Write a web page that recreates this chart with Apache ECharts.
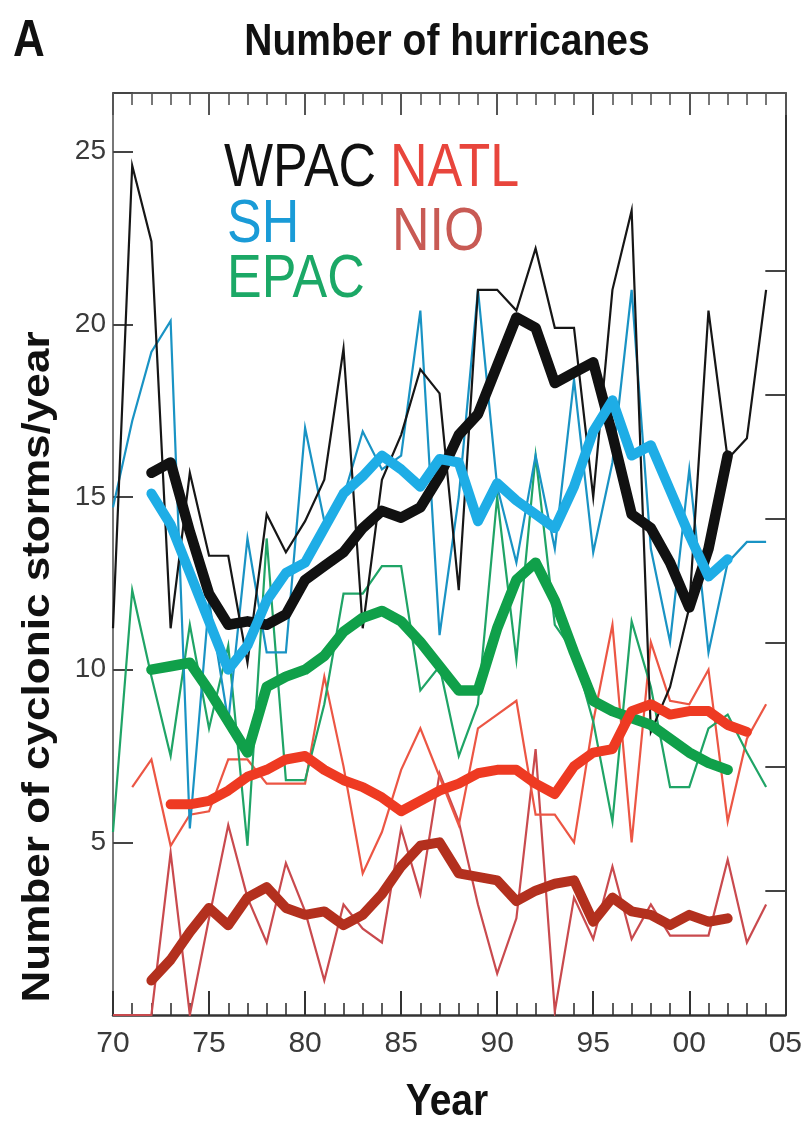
<!DOCTYPE html>
<html>
<head>
<meta charset="utf-8">
<script src="https://cdn.jsdelivr.net/npm/echarts@6/dist/echarts.min.js"></script>
<style>
html,body{margin:0;padding:0;background:#fff;}
#chart{width:805px;height:1126px;}
</style>
</head>
<body>
<div id="chart"></div>
<script>
// ---- data ----
const years = [1970,1971,1972,1973,1974,1975,1976,1977,1978,1979,1980,1981,1982,1983,1984,1985,1986,1987,1988,1989,1990,1991,1992,1993,1994,1995,1996,1997,1998,1999,2000,2001,2002,2003,2004];
const smoothYears = [1972,1973,1974,1975,1976,1977,1978,1979,1980,1981,1982,1983,1984,1985,1986,1987,1988,1989,1990,1991,1992,1993,1994,1995,1996,1997,1998,1999,2000,2001,2002];
const natlSmoothYears = [1973,1974,1975,1976,1977,1978,1979,1980,1981,1982,1983,1984,1985,1986,1987,1988,1989,1990,1991,1992,1993,1994,1995,1996,1997,1998,1999,2000,2001,2002,2003];

const wpacAnnual = [11.2,24.6,22.4,11.2,15.7,13.3,13.3,10.2,14.5,13.4,14.3,15.5,19.3,11.2,15.5,16.8,18.7,18.0,12.3,21.0,21.0,20.4,22.2,19.9,19.9,15.0,21.0,23.3,8.2,9.5,11.8,20.4,16.1,16.7,21.0];
const shAnnual   = [14.7,17.2,19.2,20.1,5.4,12.0,8.5,13.8,10.5,10.5,17.0,14.3,15.0,16.9,15.8,16.2,20.4,11.0,15.0,21.0,15.3,13.1,16.2,13.5,18.4,13.4,16.0,21.0,13.5,10.8,15.8,10.5,13.1,13.7,13.7];
const epacAnnual = [5.3,12.3,9.8,7.5,11.3,8.3,10.7,4.9,13.8,6.8,6.8,9.0,12.2,12.2,13.0,13.0,9.4,10.1,7.5,9.0,15.0,10.3,16.2,11.3,10.5,8.5,5.6,11.4,9.5,6.6,6.6,8.3,8.7,7.6,6.6];
const natlAnnual = [null,6.6,7.4,4.9,5.8,5.9,7.4,7.4,6.7,6.7,6.7,9.8,7.2,4.1,5.3,7.1,8.3,6.9,5.5,8.3,8.7,9.1,5.8,5.8,5.0,8.5,11.3,5.0,10.8,9.1,9.0,10.0,5.6,8.0,9.0];
const nioAnnual  = [0,0,0,4.7,0,2.8,5.5,3.4,2.1,4.4,3.0,1.0,3.2,2.5,2.1,5.4,3.5,7.0,5.6,3.2,1.2,2.8,7.7,0.1,3.4,2.2,4.3,2.2,3.2,2.3,2.3,2.3,4.5,2.1,3.2];

const wpacSmooth = [15.7,16.0,14.0,12.2,11.3,11.4,11.3,11.6,12.6,13.0,13.4,14.1,14.6,14.4,14.7,15.6,16.8,17.4,18.8,20.2,19.9,18.3,18.6,18.9,16.8,14.5,14.1,13.1,11.8,13.5,16.2];
const shSmooth   = [15.1,14.2,12.8,11.4,10.0,10.7,12.0,12.8,13.1,14.1,15.1,15.6,16.2,15.8,15.3,16.1,16.0,14.3,15.4,14.9,14.5,14.1,15.3,16.9,17.8,16.2,16.5,15.2,13.9,12.7,13.2];
const epacSmooth = [10.0,10.1,10.2,9.4,8.5,7.6,9.5,9.8,10.0,10.4,11.1,11.5,11.7,11.4,10.8,10.1,9.4,9.4,11.2,12.6,13.1,12.0,10.5,9.1,8.8,8.6,8.4,8.0,7.6,7.3,7.1];
const natlSmooth = [6.1,6.1,6.2,6.5,6.9,7.1,7.4,7.5,7.1,6.8,6.6,6.3,5.9,6.2,6.5,6.7,7.0,7.1,7.1,6.7,6.4,7.2,7.6,7.7,8.8,9.0,8.7,8.8,8.8,8.4,8.2];
const nioSmooth  = [1.0,1.6,2.4,3.1,2.6,3.4,3.7,3.1,2.9,3.0,2.6,2.9,3.5,4.3,4.9,5.0,4.1,4.0,3.9,3.3,3.6,3.8,3.9,2.7,3.4,3.0,2.9,2.6,2.9,2.7,2.8];

const yTickLabels = [5,10,15,20,25];
const rightTicks = [1,2,3,4,5,6];

// ---- helpers ----
const pairs = (xs, vs) => xs.map((x, i) => [x, vs[i]]);
const FONT = '"Liberation Sans", Arial, Helvetica, sans-serif';

function thin(name, xs, vs, color) {
  return { name, type: 'line', data: pairs(xs, vs), showSymbol: false, symbol: 'none',
    lineStyle: { color, width: 2.2, join: 'miter' }, itemStyle: { color }, z: 2, silent: true };
}
function thick(name, xs, vs, color, w) {
  return { name, type: 'line', data: pairs(xs, vs), showSymbol: false, symbol: 'none',
    lineStyle: { color, width: w || 10, cap: 'round', join: 'round' }, itemStyle: { color }, z: 3, silent: true };
}

const xFmt = v => { const r = v % 100; return (r < 10 ? '0' : '') + r; };

const chart = echarts.init(document.getElementById('chart'), null, { renderer: 'canvas' });

const axisColor = '#333';
const option = {
  animation: false,
  backgroundColor: '#ffffff',
  grid: { left: 113, right: 17, top: 93, bottom: 111 },
  xAxis: [
    { type: 'value', min: 1970, max: 2005, interval: 5, position: 'bottom',
      axisLine: { show: true, onZero: false, lineStyle: { color: axisColor, width: 2.5 } },
      axisTick: { show: true, inside: true, length: 24, lineStyle: { color: axisColor, width: 2 } },
      minorTick: { show: true, splitNumber: 5, length: 12, lineStyle: { color: axisColor, width: 1.6 } },
      splitLine: { show: false }, minorSplitLine: { show: false },
      axisLabel: { fontSize: 30, color: '#3a3a3a', fontFamily: FONT, margin: 14, formatter: xFmt } },
    { type: 'value', min: 1970, max: 2005, interval: 5, position: 'top',
      axisLine: { show: true, onZero: false, lineStyle: { color: '#555', width: 2 } },
      axisTick: { show: true, inside: true, length: 22, lineStyle: { color: '#555', width: 2 } },
      minorTick: { show: true, splitNumber: 5, length: 12, lineStyle: { color: '#555', width: 1.6 } },
      splitLine: { show: false }, minorSplitLine: { show: false },
      axisLabel: { show: false } }
  ],
  yAxis: [
    { type: 'value', min: 0, max: 26.7, interval: 5, position: 'left',
      axisLine: { show: true, onZero: false, lineStyle: { color: '#777', width: 2 } },
      axisTick: { show: true, inside: true, length: 20, lineStyle: { color: '#444', width: 2 } },
      splitLine: { show: false },
      axisLabel: { fontSize: 28, color: '#3a3a3a', fontFamily: FONT, margin: 7,
        formatter: v => (yTickLabels.indexOf(v) >= 0 ? String(v) : '') } },
    { type: 'value', min: 0, max: 7.435, interval: 1, position: 'right',
      axisLine: { show: true, onZero: false, lineStyle: { color: '#333', width: 2 } },
      axisTick: { show: true, inside: true, length: 20, customValues: rightTicks, lineStyle: { color: '#444', width: 2 } },
      splitLine: { show: false },
      axisLabel: { show: false } }
  ],
  series: [
    thin('NIO', years, nioAnnual, '#c94a4e'),
    thin('NATL', years, natlAnnual, '#ec5644'),
    thin('EPAC', years, epacAnnual, '#1fa466'),
    thin('SH', years, shAnnual, '#1993c4'),
    thin('WPAC', years, wpacAnnual, '#161616'),
    thick('EPAC smoothed', smoothYears, epacSmooth, '#10a04a', 10.5),
    thick('NIO smoothed', smoothYears, nioSmooth, '#b3301e', 10),
    thick('WPAC smoothed', smoothYears, wpacSmooth, '#111111', 10.5),
    thick('SH smoothed', smoothYears, shSmooth, '#1eade6', 10),
    thick('NATL smoothed', natlSmoothYears, natlSmooth, '#ee3a22', 10)
  ],
  graphic: [
    { type: 'text', x: 29, y: 42, scaleY: 1.16, z: 10,
      style: { text: 'A', font: 'bold 44px ' + FONT, fill: '#111', align: 'center', verticalAlign: 'middle', textAlign: 'center', textVerticalAlign: 'middle' } },
    { type: 'text', x: 447, y: 43, scaleY: 1.16, z: 10,
      style: { text: 'Number of hurricanes', font: 'bold 39px ' + FONT, fill: '#111', align: 'center', verticalAlign: 'middle', textAlign: 'center', textVerticalAlign: 'middle' } },
    { type: 'text', x: 447, y: 1103, scaleY: 1.16, z: 10,
      style: { text: 'Year', font: 'bold 39px ' + FONT, fill: '#111', align: 'center', verticalAlign: 'middle', textAlign: 'center', textVerticalAlign: 'middle' } },
    { type: 'text', x: 38, y: 667, rotation: Math.PI / 2, scaleX: 1.13, z: 10,
      style: { text: 'Number of cyclonic storms/year', font: 'bold 39px ' + FONT, fill: '#111', align: 'center', verticalAlign: 'middle', textAlign: 'center', textVerticalAlign: 'middle' } },
    { type: 'text', x: 224, y: 169, scaleY: 1.16, z: 10,
      style: { text: 'WPAC', font: '52px ' + FONT, fill: '#111', align: 'left', verticalAlign: 'middle', textAlign: 'left', textVerticalAlign: 'middle' } },
    { type: 'text', x: 227, y: 225, scaleY: 1.16, z: 10,
      style: { text: 'SH', font: '52px ' + FONT, fill: '#1a9bd7', align: 'left', verticalAlign: 'middle', textAlign: 'left', textVerticalAlign: 'middle' } },
    { type: 'text', x: 227, y: 280, scaleY: 1.16, z: 10,
      style: { text: 'EPAC', font: '52px ' + FONT, fill: '#1ba866', align: 'left', verticalAlign: 'middle', textAlign: 'left', textVerticalAlign: 'middle' } },
    { type: 'text', x: 390, y: 169, scaleY: 1.16, z: 10,
      style: { text: 'NATL', font: '52px ' + FONT, fill: '#e8453c', align: 'left', verticalAlign: 'middle', textAlign: 'left', textVerticalAlign: 'middle' } },
    { type: 'text', x: 392, y: 233, scaleY: 1.16, z: 10,
      style: { text: 'NIO', font: '52px ' + FONT, fill: '#c85a54', align: 'left', verticalAlign: 'middle', textAlign: 'left', textVerticalAlign: 'middle' } }
  ]
};
chart.setOption(option);
</script>
</body>
</html>
